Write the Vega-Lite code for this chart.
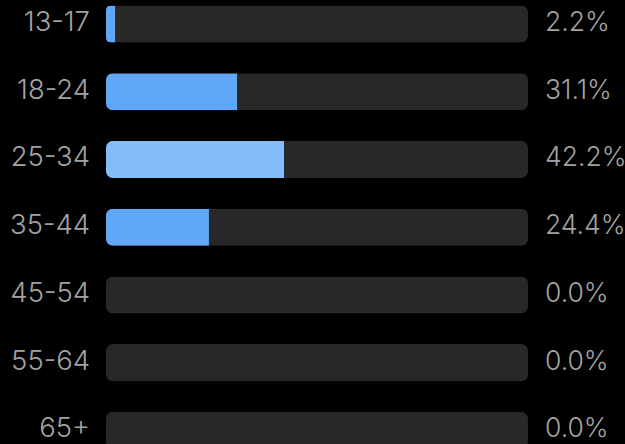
{
  "$schema": "https://vega.github.io/schema/vega-lite/v6.json",
  "width": 625,
  "height": 474,
  "padding": 0,
  "autosize": {"type": "none"},
  "background": "#000000",
  "config": {"view": {"stroke": null}},
  "data": {
    "values": [
      {"age": "13-17", "pct": 0.022, "total": 1, "selected": "no"},
      {"age": "18-24", "pct": 0.311, "total": 1, "selected": "no"},
      {"age": "25-34", "pct": 0.422, "total": 1, "selected": "yes"},
      {"age": "35-44", "pct": 0.244, "total": 1, "selected": "no"},
      {"age": "45-54", "pct": 0.0, "total": 1, "selected": "no"},
      {"age": "55-64", "pct": 0.0, "total": 1, "selected": "no"},
      {"age": "65+", "pct": 0.0, "total": 1, "selected": "no"}
    ]
  },
  "encoding": {
    "y": {
      "field": "age",
      "type": "nominal",
      "sort": null,
      "scale": {"paddingInner": 0.453, "paddingOuter": 0.2265, "align": 0.18},
      "axis": null
    }
  },
  "layer": [
    {
      "mark": {"type": "bar", "color": "#282828", "cornerRadius": 7},
      "encoding": {
        "x": {"field": "total", "type": "quantitative", "scale": {"domain": [-0.2512, 1.2299], "nice": false, "zero": false}, "axis": null}
      }
    },
    {
      "mark": {"type": "bar", "cornerRadiusTopLeft": 7, "cornerRadiusBottomLeft": 7},
      "encoding": {
        "x": {"field": "pct", "type": "quantitative"},
        "color": {
          "field": "selected",
          "type": "nominal",
          "scale": {"domain": ["no", "yes"], "range": ["#60a8f7", "#83bcfa"]},
          "legend": null
        }
      }
    },
    {
      "mark": {"type": "text", "align": "right", "baseline": "middle", "dx": -16, "dy": -1, "fontSize": 27.5, "font": "Inter", "fontWeight": 300, "color": "#a3a3a3"},
      "encoding": {
        "x": {"datum": 0, "type": "quantitative"},
        "text": {"field": "age"}
      }
    },
    {
      "mark": {"type": "text", "align": "left", "baseline": "middle", "dx": 17, "dy": -1, "fontSize": 26.5, "font": "Inter", "fontWeight": 300, "color": "#a3a3a3"},
      "encoding": {
        "x": {"field": "total", "type": "quantitative"},
        "text": {"field": "pct", "format": ".1%"}
      }
    }
  ]
}
